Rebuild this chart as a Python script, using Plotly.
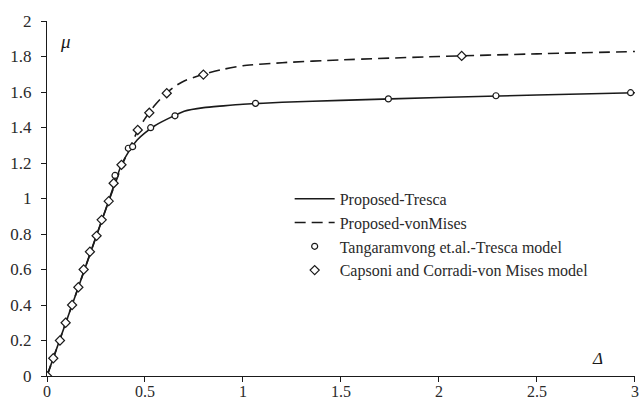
import plotly.graph_objects as go

# Proposed-Tresca curve
tresca_x = [0, 0.1, 0.2, 0.3, 0.35, 0.38, 0.42, 0.46, 0.5, 0.55, 0.6, 0.65, 0.7, 0.8, 0.9, 1.0, 1.2, 1.5, 2.0, 2.5, 3.0]
tresca_y = [0, 0.313, 0.626, 0.94, 1.1, 1.19, 1.27, 1.33, 1.37, 1.41, 1.44, 1.467, 1.492, 1.512, 1.522, 1.531, 1.542, 1.553, 1.569, 1.583, 1.596]

# Proposed-vonMises curve
mises_x = [0, 0.1, 0.2, 0.3, 0.35, 0.38, 0.42, 0.46, 0.5, 0.55, 0.6, 0.65, 0.7, 0.8, 0.9, 1.0, 1.2, 1.5, 2.0, 2.5, 3.0]
mises_y = [0, 0.313, 0.626, 0.94, 1.09, 1.18, 1.28, 1.375, 1.45, 1.525, 1.585, 1.63, 1.662, 1.70, 1.728, 1.748, 1.765, 1.781, 1.80, 1.815, 1.828]

# Tangaramvong et.al.-Tresca model
tang_x = [0.347, 0.381, 0.415, 0.437, 0.529, 0.653, 1.064, 1.742, 2.291, 2.978]
tang_y = [1.13, 1.189, 1.283, 1.292, 1.399, 1.466, 1.536, 1.561, 1.579, 1.596]

# Capsoni and Corradi-von Mises model
caps_x = [0, 0.032, 0.066, 0.095, 0.128, 0.16, 0.187, 0.219, 0.253, 0.279, 0.315, 0.34, 0.38, 0.463, 0.522, 0.611, 0.798, 2.116]
caps_y = [0, 0.1, 0.2, 0.3, 0.4, 0.5, 0.6, 0.7, 0.79, 0.88, 0.985, 1.086, 1.19, 1.386, 1.483, 1.593, 1.698, 1.803]

x_ticks = [0, 0.5, 1, 1.5, 2, 2.5, 3]
x_tick_labels = ["0", "0.5", "1", "1.5", "2", "2.5", "3"]
y_ticks = [0, 0.2, 0.4, 0.6, 0.8, 1.0, 1.2, 1.4, 1.6, 1.8, 2.0]
y_tick_labels = ["0", "0.2", "0.4", "0.6", "0.8", "1", "1.2", "1.4", "1.6", "1.8", "2"]

FONT = "Liberation Serif, Times New Roman, serif"
INK = "#1a1a1a"

fig = go.Figure()
fig.add_trace(go.Scatter(x=tresca_x, y=tresca_y, mode="lines", name="Proposed-Tresca",
                         line=dict(color=INK, width=1.6, shape="spline", smoothing=0.6),
                         legendgroup="a"))
fig.add_trace(go.Scatter(x=mises_x, y=mises_y, mode="lines", name="Proposed-vonMises",
                         line=dict(color=INK, width=1.6, dash="11px,6px", shape="spline", smoothing=0.6),
                         legendgroup="b"))
fig.add_trace(go.Scatter(x=tang_x, y=tang_y, mode="markers", name="Tangaramvong et.al.-Tresca model",
                         marker=dict(symbol="circle", size=6, color="white", line=dict(color=INK, width=1.2)),
                         legendgroup="c"))
fig.add_trace(go.Scatter(x=caps_x, y=caps_y, mode="markers", name="Capsoni and Corradi-von Mises model",
                         marker=dict(symbol="diamond", size=7, color="white", line=dict(color=INK, width=1.2)),
                         legendgroup="d"))

fig.update_layout(
    width=641, height=401,
    margin=dict(l=47, r=6, t=21, b=25, autoexpand=False),
    paper_bgcolor="white", plot_bgcolor="white",
    font=dict(family=FONT, size=16, color="#2a2a2a"),
    showlegend=True,
    legend=dict(x=0.4127, y=0.547, xanchor="left", yanchor="top", bgcolor="rgba(0,0,0,0)",
                font=dict(family=FONT, size=16, color="#2a2a2a"), tracegroupgap=0,
                itemwidth=40),
    xaxis=dict(range=[0, 3.0005], tickvals=x_ticks, ticktext=x_tick_labels, showgrid=False, zeroline=False,
               showline=True, linecolor=INK, linewidth=1.2, ticks="outside", ticklen=5, tickcolor=INK,
               tickfont=dict(family=FONT, size=16), ticklabeloverflow="allow", automargin=False,
               ticklabelstandoff=-4),
    yaxis=dict(range=[0, 2], tickvals=y_ticks, ticktext=y_tick_labels, showgrid=False, zeroline=False,
               showline=True, linecolor=INK, linewidth=1.2, ticks="outside", ticklen=5, tickcolor=INK,
               tickfont=dict(family=FONT, size=17), ticklabelstandoff=6, automargin=False),
    annotations=[
        dict(x=0.095, y=1.887, xref="x", yref="y", text="<i>μ</i>", showarrow=False,
             font=dict(family=FONT, size=19, color=INK), xanchor="center", yanchor="middle"),
        dict(x=2.811, y=0.101, xref="x", yref="y", text="<i>Δ</i>", showarrow=False,
             font=dict(family=FONT, size=17, color=INK), xanchor="center", yanchor="middle"),
    ],
)

fig.write_html("out.html", config={"displayModeBar": False},
               post_script="document.body.style.margin='0px';")
